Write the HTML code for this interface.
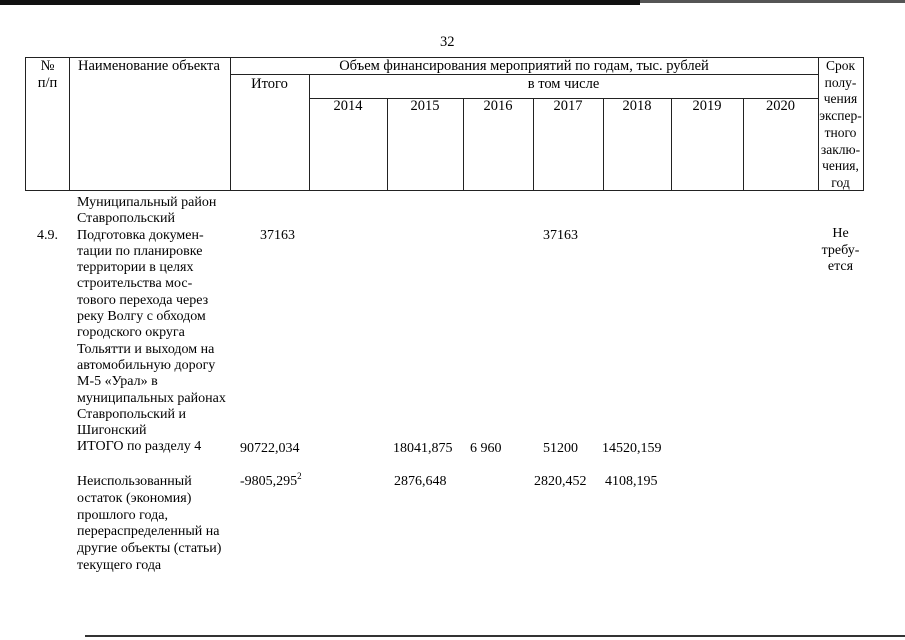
<!DOCTYPE html>
<html><head><meta charset="utf-8"><style>
body{margin:0;width:905px;height:640px;background:#fff;position:relative;overflow:hidden;font-family:"Liberation Serif","DejaVu Serif",serif;color:#000;font-size:14.5px}
.t{position:absolute;white-space:nowrap;line-height:16px}
.l{position:absolute;background:#222}
.c{text-align:center}
.b{font-size:14px}
</style></head><body>
<div class="l" style="left:0;top:0;width:640px;height:5px;background:#111"></div>
<div class="l" style="left:640px;top:0;width:265px;height:3px;background:#555"></div>
<div class="l" style="left:85px;top:635px;width:820px;height:2px;background:#333"></div>

<div class="t" style="left:440px;top:34px">32</div>

<div class="l" style="left:25px;top:57px;width:838px;height:1px"></div>
<div class="l" style="left:230px;top:74px;width:588px;height:1px"></div>
<div class="l" style="left:309px;top:98px;width:509px;height:1px"></div>
<div class="l" style="left:25px;top:190px;width:838px;height:1px"></div>
<div class="l" style="left:25px;top:57px;width:1px;height:134px"></div>
<div class="l" style="left:69px;top:57px;width:1px;height:134px"></div>
<div class="l" style="left:230px;top:57px;width:1px;height:134px"></div>
<div class="l" style="left:309px;top:74px;width:1px;height:117px"></div>
<div class="l" style="left:387px;top:98px;width:1px;height:93px"></div>
<div class="l" style="left:463px;top:98px;width:1px;height:93px"></div>
<div class="l" style="left:533px;top:98px;width:1px;height:93px"></div>
<div class="l" style="left:603px;top:98px;width:1px;height:93px"></div>
<div class="l" style="left:671px;top:98px;width:1px;height:93px"></div>
<div class="l" style="left:743px;top:98px;width:1px;height:93px"></div>
<div class="l" style="left:818px;top:57px;width:1px;height:134px"></div>
<div class="l" style="left:863px;top:57px;width:1px;height:134px"></div>

<div class="t c" style="left:26px;width:43px;top:58px;line-height:17px">№<br>п/п</div>
<div class="t" style="left:78px;top:58px">Наименование объекта</div>
<div class="t c" style="left:230px;width:588px;top:58px">Объем финансирования мероприятий по годам, тыс. рублей</div>
<div class="t c" style="left:230px;width:79px;top:76px">Итого</div>
<div class="t c" style="left:309px;width:509px;top:76px">в том числе</div>
<div class="t c" style="left:309px;width:78px;top:98px">2014</div>
<div class="t c" style="left:387px;width:76px;top:98px">2015</div>
<div class="t c" style="left:463px;width:70px;top:98px">2016</div>
<div class="t c" style="left:533px;width:70px;top:98px">2017</div>
<div class="t c" style="left:603px;width:68px;top:98px">2018</div>
<div class="t c" style="left:671px;width:72px;top:98px">2019</div>
<div class="t c" style="left:743px;width:75px;top:98px">2020</div>
<div class="t c" style="left:818px;width:45px;top:58px;line-height:16.7px;font-size:13.5px">Срок<br>полу-<br>чения<br>экспер-<br>тного<br>заклю-<br>чения,<br>год</div>

<div class="t b" style="left:77px;top:195px;line-height:16.3px">Муниципальный район<br>Ставропольский<br>Подготовка докумен-<br>тации по планировке<br>территории в целях<br>строительства мос-<br>тового перехода через<br>реку Волгу с обходом<br>городского округа<br>Тольятти и выходом на<br>автомобильную дорогу<br>М-5 «Урал» в<br>муниципальных районах<br>Ставропольский и<br>Шигонский<br>ИТОГО по разделу 4</div>
<div class="t b" style="left:37px;top:228px">4.9.</div>
<div class="t b" style="left:260px;top:228px">37163</div>
<div class="t b" style="left:543px;top:228px">37163</div>
<div class="t c b" style="left:818px;width:45px;top:226px;line-height:16.7px">Не<br>требу-<br>ется</div>

<div class="t b" style="left:240px;top:441px">90722,034</div>
<div class="t b" style="left:393px;top:441px">18041,875</div>
<div class="t b" style="left:470px;top:441px">6 960</div>
<div class="t b" style="left:543px;top:441px">51200</div>
<div class="t b" style="left:602px;top:441px">14520,159</div>

<div class="t b" style="left:77px;top:474px;line-height:16.8px">Неиспользованный<br>остаток (экономия)<br>прошлого года,<br>перераспределенный на<br>другие объекты (статьи)<br>текущего года</div>
<div class="t b" style="left:240px;top:474px">-9805,295<sup style="font-size:9px;vertical-align:6px;line-height:0">2</sup></div>
<div class="t b" style="left:394px;top:474px">2876,648</div>
<div class="t b" style="left:534px;top:474px">2820,452</div>
<div class="t b" style="left:605px;top:474px">4108,195</div>
</body></html>
